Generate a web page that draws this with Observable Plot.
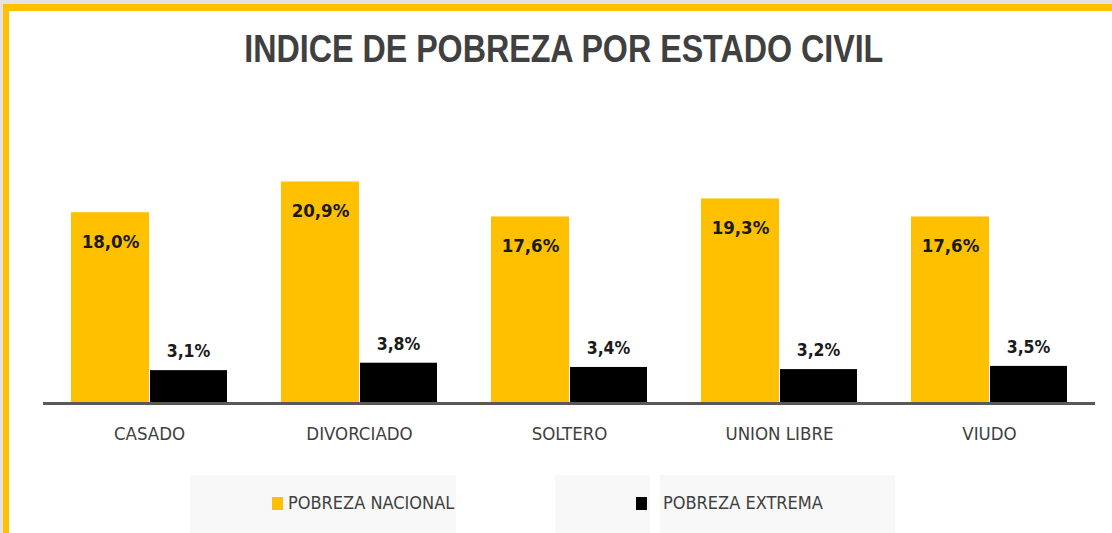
<!DOCTYPE html>
<html>
<head>
<meta charset="utf-8">
<script src="https://cdn.jsdelivr.net/npm/d3@7"></script>
<script src="https://cdn.jsdelivr.net/npm/@observablehq/plot@0.6"></script>
<style>
  html, body { margin: 0; padding: 0; background: #ffffff; }
  #frame { position: relative; width: 1112px; height: 533px; overflow: hidden; background: #ffffff;
    font-family: "DejaVu Sans Condensed", "Liberation Sans", sans-serif; }
  #topgray { position: absolute; left: 0; top: 0; width: 1112px; height: 4px; background: #e3e3e3; }
  #leftgray { position: absolute; left: 0; top: 0; width: 3px; height: 533px; background: #e3e3e3; }
  #topbar { position: absolute; left: 3px; top: 4px; width: 1109px; height: 7px; background: #ffc000; }
  #leftbar { position: absolute; left: 3px; top: 4px; width: 6px; height: 529px; background: #ffc000; }
  #title { position: relative; height: 90px; }
  #title h1 { position: absolute; left: 0; width: 1128px; top: 27px; margin: 0; text-align: center;
    font-family: "Liberation Sans", Arial, sans-serif;
    font-size: 39px; font-weight: bold; color: #404040; line-height: 44px; }
  #title h1 span { display: inline-block; transform: scaleX(0.826); transform-origin: center; }
  #chart { position: relative; height: 370px; }
  #chart svg { display: block; }
  #legend { position: relative; height: 73px; }
  .lbox { position: absolute; background: #f8f8f8; top: 15px; height: 58px; }
  .sw { position: absolute; width: 11px; height: 13px; top: 37px; }
  .lt { position: absolute; top: 32px; font-size: 18px; line-height: 22px; color: #404040; white-space: nowrap; }
</style>
</head>
<body>
<div id="frame">
  <div id="title"><h1><span>INDICE DE POBREZA POR ESTADO CIVIL</span></h1></div>
  <div id="chart"></div>
  <div id="legend"></div>
  <div id="topgray"></div>
  <div id="leftgray"></div>
  <div id="topbar"></div>
  <div id="leftbar"></div>
</div>
<script>
const categories = ["CASADO", "DIVORCIADO", "SOLTERO", "UNION LIBRE", "VIUDO"];
const pobrezaNacional = [18.0, 20.9, 17.6, 19.3, 17.6];
const pobrezaExtrema = [3.1, 3.8, 3.4, 3.2, 3.5];
const seriesNames = ["POBREZA NACIONAL", "POBREZA EXTREMA"];
const seriesColors = ["#ffc000", "#000000"];

const nac = categories.map((c, i) => ({cat: c, value: pobrezaNacional[i]}));
const ext = categories.map((c, i) => ({cat: c, value: pobrezaExtrema[i]}));
const fmt = v => v.toFixed(1).replace(".", ",") + "%";
const FONT = '"DejaVu Sans Condensed", "Liberation Sans", sans-serif';

const plot = Plot.plot({
  width: 1112,
  height: 370,
  marginLeft: 43,
  marginRight: 17,
  marginTop: 48,
  marginBottom: 57,
  style: {fontFamily: FONT, color: "#404040", background: "transparent"},
  x: {type: "band", domain: categories, paddingInner: 0.257, paddingOuter: 0.1286, label: null},
  y: {domain: [0, 25], axis: null},
  marks: [
    Plot.barY(nac, {x: "cat", y: "value", fill: seriesColors[0], insetRight: 78}),
    Plot.barY(ext, {x: "cat", y: "value", fill: seriesColors[1], insetLeft: 79}),
    Plot.ruleY([0], {stroke: "#595959", strokeWidth: 3}),
    Plot.text(nac, {x: "cat", y: "value", text: d => fmt(d.value), dx: -39, dy: 29,
      fontSize: 18.5, fontWeight: "bold", fill: "#1a1a1a"}),
    Plot.text(ext, {x: "cat", y: "value", text: d => fmt(d.value), dx: 39, dy: -19,
      fontSize: 17.5, fontWeight: "bold", fill: "#1a1a1a"}),
    Plot.axisX({tickSize: 0, tickPadding: 23, fontSize: 18.5, fill: "#404040", label: null})
  ]
});
document.getElementById("chart").appendChild(plot);

const legend = document.getElementById("legend");
const boxes = [[190, 266], [555, 95], [660, 235]];
boxes.forEach(([l, w]) => {
  const b = document.createElement("div");
  b.className = "lbox"; b.style.left = l + "px"; b.style.width = w + "px";
  legend.appendChild(b);
});
const items = [[272, 288], [636, 663]];
items.forEach(([sx, tx], i) => {
  const s = document.createElement("div");
  s.className = "sw"; s.style.left = sx + "px"; s.style.background = seriesColors[i];
  legend.appendChild(s);
  const t = document.createElement("div");
  t.className = "lt"; t.style.left = tx + "px"; t.textContent = seriesNames[i];
  legend.appendChild(t);
});
</script>
</body>
</html>
